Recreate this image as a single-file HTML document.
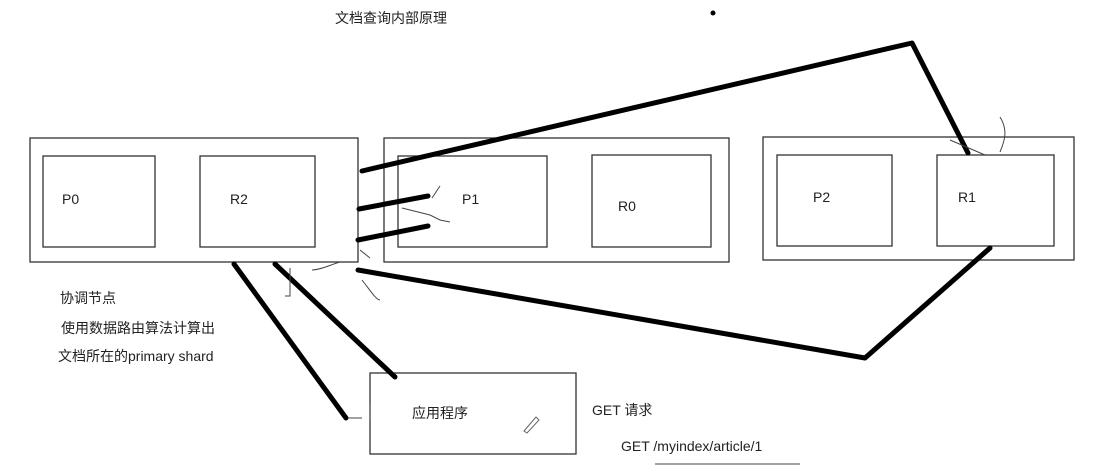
<!DOCTYPE html>
<html><head><meta charset="utf-8"><style>
body{margin:0;background:#fff;}
svg text{font-family:"Liberation Sans","Noto Sans CJK SC",sans-serif;font-size:14px;fill:#222;}
</style></head><body>
<svg width="1108" height="468" viewBox="0 0 1108 468" xmlns="http://www.w3.org/2000/svg">
<g fill="none" stroke="#333" stroke-width="1.3">
<rect x="30" y="138" width="328" height="124"/>
<rect x="43" y="156" width="112" height="91"/>
<rect x="200" y="156" width="115" height="91"/>
<rect x="384" y="138" width="345" height="124"/>
<rect x="398" y="156" width="149" height="91"/>
<rect x="592" y="155" width="119" height="92"/>
<rect x="763" y="137" width="311" height="123"/>
<rect x="777" y="155" width="115" height="91"/>
<rect x="937" y="155" width="117" height="91"/>
<rect x="370" y="373" width="206" height="81"/>
</g>
<g fill="none" stroke="#000" stroke-width="5" stroke-linecap="round" stroke-linejoin="round">
<polyline points="362,171 912,43 968,153"/>
<line x1="359" y1="209" x2="428" y2="196"/>
<line x1="358" y1="240" x2="428" y2="226"/>
<polyline points="358,270 865,358 990,248"/>
<line x1="234" y1="264" x2="346" y2="418"/>
<line x1="275" y1="264" x2="395" y2="377"/>
</g>
<g fill="none" stroke="#444" stroke-width="1">
<path d="M1000,152 C1005,140 1008,130 1000,117"/>
<path d="M950,140 L985,155"/>
<path d="M432,198 L440,186 M402,208 L430,215 L440,220 L450,222"/>
<path d="M360,250 L370,258 M362,280 C370,290 376,300 380,300 M340,262 C330,265 320,270 312,270"/>
<path d="M290,268 L290,296 L285,296 M362,418 L348,418 M370,405 L370,420"/>
<line x1="655" y1="464" x2="800" y2="464"/>
</g>
<circle cx="713" cy="13" r="2.5" fill="#000"/>
<text x="335" y="23">文档查询内部原理</text>
<text x="62" y="204">P0</text>
<text x="230" y="204">R2</text>
<text x="462" y="204">P1</text>
<text x="618" y="211">R0</text>
<text x="813" y="202">P2</text>
<text x="958" y="202">R1</text>
<text x="60" y="303">协调节点</text>
<text x="61" y="333">使用数据路由算法计算出</text>
<text x="58" y="361">文档所在的primary shard</text>
<text x="412" y="418">应用程序</text>
<text x="592" y="415">GET  请求</text>
<text x="621" y="451">GET /myindex/article/1</text>
<path d="M524,431 L536,417 L539,420 L527,433 Z" fill="none" stroke="#666" stroke-width="1"/>
</svg>
</body></html>
